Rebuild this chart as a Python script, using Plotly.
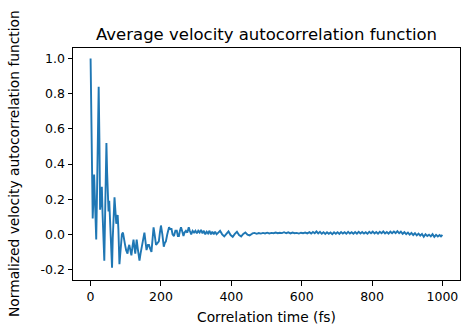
import plotly.graph_objects as go

# Correlation time (fs)
time_fs = [
    0, 2, 4, 6, 8, 10, 12, 14, 16, 18, 21, 23, 25, 27, 29, 32, 34, 36, 39, 41,
    43, 45, 47, 49, 51, 53, 55, 58, 61, 63, 65, 68, 70, 73, 75, 77, 79, 82, 84, 86,
    89, 92, 94, 96, 98, 101, 105, 107, 110, 113, 116, 119, 122, 125, 127, 129, 131, 134, 136, 139,
    142, 145, 149, 153, 156, 159, 163, 166, 169, 173, 176, 179, 182, 186, 190, 194, 197, 200, 204, 208,
    211, 214, 218, 223, 226, 230, 233, 237, 241, 245, 248, 251, 254, 257, 260, 264, 267, 271, 275, 279,
    282, 286, 290, 294, 298, 302, 306, 310, 314, 318, 322, 326, 330, 334, 338, 342, 346, 350, 354, 358,
    363, 368, 374, 380, 386, 392, 398, 404, 410, 416, 422, 428, 434, 440, 446, 452, 458,
    460, 466, 472, 478, 484, 490, 496, 502, 508, 514, 520, 526, 532, 538, 544, 550, 556, 562, 568, 574,
    580, 586, 592, 598, 604, 610, 616, 622, 627, 632, 637, 642, 647, 652, 657, 662, 667, 672, 677, 682,
    687, 692, 697, 702, 707, 712, 717, 722, 727, 732, 737, 742, 747, 752, 757, 762, 767, 772, 777, 782,
    787, 792, 797, 802, 807, 812, 817, 822, 827, 832, 837, 842, 847, 852, 857, 862, 867, 872, 877, 882,
    887, 892, 897, 902, 907, 912, 917, 922, 927, 932, 937, 942, 947, 952, 957, 962, 967, 972, 977, 982,
    987, 992, 996, 1000,
]

# Normalized velocity autocorrelation function
vacf = [
    1.00, 0.75, 0.35, 0.09, 0.20, 0.34, 0.22, 0.05, -0.03, 0.20, 0.60, 0.84, 0.55, 0.14, 0.18, 0.27, 0.12, -0.02, -0.15, 0.08,
    0.35, 0.52, 0.35, 0.16, 0.13, 0.19, 0.10, -0.08, -0.19, -0.02, 0.12, 0.21, 0.15, 0.06, 0.09, 0.11, 0.03, -0.17, -0.12, -0.05,
    0.00, 0.01, -0.02, -0.03, -0.06, -0.09, -0.11, -0.08, -0.06, -0.09, -0.12, -0.07, -0.03, -0.08, -0.11, -0.07, -0.03, -0.08, -0.12, -0.15,
    -0.11, -0.07, -0.02, 0.01, -0.04, -0.09, -0.06, -0.06, -0.08, -0.10, -0.03, 0.04, 0.00, -0.06, -0.05, -0.04, 0.01, 0.05, 0.00, -0.07,
    -0.05, -0.04, 0.00, 0.04, 0.03, 0.03, 0.00, -0.01, 0.02, 0.02, -0.01, -0.01, 0.02, 0.04, 0.02, -0.01, 0.01, 0.02, 0.01, 0.04,
    0.02, 0.00, 0.02, 0.01, 0.02, 0.005, 0.02, 0.01, 0.025, 0.005, 0.02, 0.0, 0.015, 0.005, 0.02, 0.0, 0.015, 0.0, 0.015, 0.0,
    0.01, 0.02, 0.0, -0.012, 0.002, 0.016, -0.004, -0.014, 0.002, 0.014, -0.004, -0.012, 0.002, 0.01, -0.002, -0.006, 0.002,
    0.005, 0.008, 0.003, 0.007, 0.004, 0.008, 0.005, 0.009, 0.005, 0.008, 0.006, 0.010, 0.006, 0.009, 0.007, 0.012, 0.006, 0.011, 0.005, 0.010,
    0.006, 0.008, 0.004, 0.009, 0.006, 0.010, 0.005, 0.012, 0.004, 0.013, 0.006, 0.016, 0.005, 0.014, 0.003, 0.012, 0.002, 0.011, 0.003, 0.010,
    0.001, 0.011, 0.003, 0.012, 0.002, 0.013, 0.004, 0.012, 0.003, 0.014, 0.004, 0.012, 0.003, 0.013, 0.004, 0.014, 0.005, 0.013, 0.004, 0.012,
    0.003, 0.014, 0.006, 0.015, 0.005, 0.013, 0.004, 0.014, 0.006, 0.016, 0.005, 0.013, 0.004, 0.015, 0.006, 0.016, 0.007, 0.018, 0.006, 0.015,
    0.003, 0.012, 0.001, 0.010, -0.002, 0.008, -0.004, 0.006, -0.006, 0.004, -0.008, 0.002, -0.014, 0.000, -0.010, -0.002, -0.012, 0.001, -0.015, -0.003,
    -0.012, -0.004, -0.012, -0.003,
]

x_ticks = [0, 200, 400, 600, 800, 1000]
y_ticks = [-0.2, 0.0, 0.2, 0.4, 0.6, 0.8, 1.0]

title_text = "Average velocity autocorrelation function"
x_label = "Correlation time (fs)"
y_label = "Normalized velocity autocorrelation function"

font_family = "DejaVu Sans"

fig = go.Figure()
fig.add_trace(go.Scatter(
    x=time_fs, y=vacf, mode="lines",
    line=dict(color="#1f77b4", width=1.9),
    showlegend=False, hoverinfo="skip",
))

axis_common = dict(
    showline=True, linecolor="black", linewidth=1, mirror=True,
    ticks="outside", ticklen=4.5, tickwidth=1, tickcolor="black",
    showgrid=False, zeroline=False,
    tickfont=dict(family=font_family, size=12.5, color="black"),
)

fig.update_layout(
    width=470, height=333,
    margin=dict(l=73, r=10, t=48, b=53),
    paper_bgcolor="white", plot_bgcolor="white",
    font=dict(family=font_family, color="black"),
    xaxis=dict(range=[-50, 1050], tickvals=x_ticks,
               ticktext=[str(v) for v in x_ticks], **axis_common),
    yaxis=dict(range=[-0.26, 1.06], tickvals=y_ticks,
               ticktext=[f"{v:.1f}" for v in y_ticks], **axis_common),
    annotations=[
        dict(text=title_text, x=0.5, y=1.0, xref="paper", yref="paper",
             xanchor="center", yanchor="bottom", yshift=2, showarrow=False,
             font=dict(family=font_family, size=16.5, color="black")),
        dict(text=x_label, x=0.5, y=0.0, xref="paper", yref="paper",
             xanchor="center", yanchor="top", yshift=-27, showarrow=False,
             font=dict(family=font_family, size=13.8, color="black")),
        dict(text=y_label, x=0.0, y=0.5, xref="paper", yref="paper",
             xanchor="right", yanchor="middle", xshift=-49, textangle=-90,
             showarrow=False,
             font=dict(family=font_family, size=13.8, color="black")),
    ],
)

fig.write_html("out.html")
